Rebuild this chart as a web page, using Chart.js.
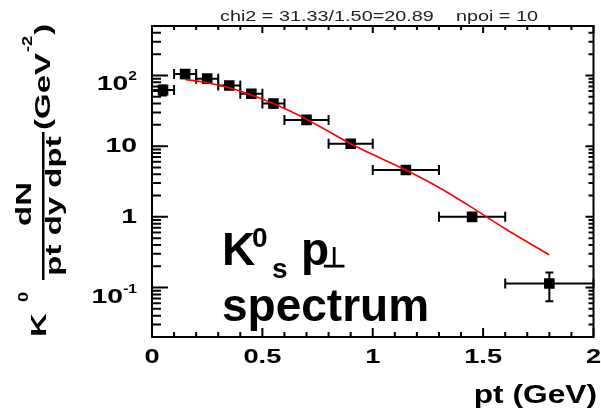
<!DOCTYPE html>
<html>
<head>
<meta charset="utf-8">
<script src="https://cdn.jsdelivr.net/npm/chart.js@4.4.1/dist/chart.umd.min.js"></script>
<style>
  html, body { margin: 0; padding: 0; background: #fff; }
  #wrap { width: 601px; height: 414px; }
</style>
</head>
<body>
<div id="wrap"><canvas id="c" width="601" height="414"></canvas></div>
<script>
// espectro K0s em pt
const ptBins = [0.05, 0.15, 0.25, 0.35, 0.45, 0.55, 0.7, 0.9, 1.15, 1.45, 1.8];
const ptHalfWidth = [0.05, 0.05, 0.05, 0.05, 0.05, 0.05, 0.1, 0.1, 0.15, 0.15, 0.2];
const yields = [62, 105, 90, 72, 55, 40, 23.5, 10.8, 4.6, 1.0, 0.114];
const yieldErr = [10, 14, 10, 8, 6, 5, 3, 1.2, 0.5, 0.1, 0.05];

// curva do ajuste (vermelha)
const fitPt = [0.15, 0.25, 0.35, 0.45, 0.55, 0.7, 0.9, 1.0, 1.15, 1.3, 1.45, 1.6, 1.8];
const fitVals = [88, 79, 67, 53, 40, 24, 10.8, 7.6, 4.6, 2.6, 1.35, 0.68, 0.29];

// eixos
const xTicks = [0, 0.5, 1, 1.5, 2];
const xTickLabels = ['0', '0.5', '1', '1.5', '2'];
const yTicks = [0.1, 1, 10, 100];
const yTickLabels = [['10', '-1'], ['1', ''], ['10', ''], ['10', '2']];
const fitTitle = 'chi2 = 31.33/1.50=20.89    npoi = 10';

const FONT = '"Liberation Sans", Arial, sans-serif';

// texto esticado (o original foi redimensionado)
function stretchText(ctx, text, x, y, font, sx, sy, align) {
  ctx.save();
  ctx.font = font;
  ctx.textAlign = align || 'left';
  ctx.textBaseline = 'alphabetic';
  ctx.translate(x, y);
  ctx.scale(sx, sy);
  ctx.fillText(text, 0, 0);
  ctx.restore();
}

// barras de erro
const errorBars = {
  id: 'errorBars',
  beforeDatasetsDraw(chart) {
    const { ctx, scales: { x, y } } = chart;
    ctx.save();
    ctx.strokeStyle = '#000';
    ctx.lineWidth = 2;
    ptBins.forEach((pt, i) => {
      const px = x.getPixelForValue(pt);
      const py = y.getPixelForValue(yields[i]);
      const x0 = x.getPixelForValue(pt - ptHalfWidth[i]);
      const x1 = x.getPixelForValue(pt + ptHalfWidth[i]);
      const y0 = y.getPixelForValue(yields[i] - yieldErr[i]);
      const y1 = y.getPixelForValue(yields[i] + yieldErr[i]);
      ctx.beginPath();
      ctx.moveTo(x0, py); ctx.lineTo(x1, py);
      ctx.moveTo(x0, py - 5); ctx.lineTo(x0, py + 5);
      ctx.moveTo(x1, py - 5); ctx.lineTo(x1, py + 5);
      ctx.moveTo(px, y0); ctx.lineTo(px, y1);
      ctx.moveTo(px - 4, y0); ctx.lineTo(px + 4, y0);
      ctx.moveTo(px - 4, y1); ctx.lineTo(px + 4, y1);
      ctx.stroke();
    });
    ctx.restore();
  }
};

// moldura estilo ROOT, ticks, rótulos e títulos
const rootFrame = {
  id: 'rootFrame',
  afterDraw(chart) {
    const { ctx, chartArea: a, scales: { x, y } } = chart;
    ctx.save();
    ctx.strokeStyle = '#000';
    ctx.fillStyle = '#000';
    ctx.lineWidth = 2;
    ctx.strokeRect(a.left, a.top, a.right - a.left, a.bottom - a.top);

    // ticks do eixo x
    ctx.beginPath();
    for (let k = 0; k <= 20; k++) {
      const v = k / 10;
      const px = x.getPixelForValue(v);
      const major = k % 5 === 0;
      ctx.moveTo(px, a.bottom); ctx.lineTo(px, a.bottom - (major ? 9 : 5));
      ctx.moveTo(px, a.top); ctx.lineTo(px, a.top + (major ? 7 : 4));
    }
    // ticks do eixo y (log)
    for (let e = -2; e <= 2; e++) {
      for (let m = 1; m <= 9; m++) {
        const v = m * Math.pow(10, e);
        if (v < y.min || v > y.max) continue;
        const py = y.getPixelForValue(v);
        const major = m === 1;
        ctx.moveTo(a.left, py); ctx.lineTo(a.left + (major ? 16 : 9), py);
        ctx.moveTo(a.right, py); ctx.lineTo(a.right - (major ? 8 : 5), py);
      }
    }
    ctx.stroke();

    // rótulos do eixo x
    xTicks.forEach((v, i) => {
      stretchText(ctx, xTickLabels[i], x.getPixelForValue(v), 363, 'bold 21px ' + FONT, 1.3, 1, 'center');
    });

    // rótulos do eixo y
    yTicks.forEach((v, i) => {
      const py = y.getPixelForValue(v);
      const [base, exp] = yTickLabels[i];
      ctx.font = 'bold 13px ' + FONT;
      const ew = exp ? ctx.measureText(exp).width * 1.2 : 0;
      const right = 137;
      const baseY = exp ? py + 15 : py + 6;
      stretchText(ctx, base, right - ew, baseY, 'bold 21px ' + FONT, 1.35, 1, 'right');
      if (exp) stretchText(ctx, exp, right - ew, baseY - 10, 'bold 13px ' + FONT, 1.2, 1, 'left');
    });

    // título do ajuste
    ctx.font = '14px ' + FONT;
    const tw = ctx.measureText(fitTitle).width;
    ctx.fillStyle = '#222';
    stretchText(ctx, fitTitle, 379, 21, '14px ' + FONT, 318 / tw, 1, 'center');
    ctx.fillStyle = '#000';

    // título do eixo x
    stretchText(ctx, 'pt (GeV)', 597, 403, 'bold 26px ' + FONT, 1.22, 1, 'right');

    // título do eixo y (rotacionado)
    ctx.save();
    ctx.translate(0, 414);
    ctx.rotate(-Math.PI / 2);
    const sL = 1.5;
    const big = 'bold 22px ' + FONT;
    const small = 'bold 14px ' + FONT;
    stretchText(ctx, 'K', 77, 46, big, sL, 1, 'left');
    stretchText(ctx, '0', 112, 28, small, 1.3, 1, 'left');
    stretchText(ctx, 'dN', 210, 31, big, sL, 1, 'center');
    ctx.fillRect(134, 42, 148, 2.5);
    stretchText(ctx, 'pt dy dpt', 208, 61, big, sL, 1, 'center');
    ctx.font = big;
    const w1 = ctx.measureText('(GeV').width * sL;
    stretchText(ctx, '(GeV', 284, 50, big, sL, 1, 'left');
    ctx.font = small;
    const w2 = ctx.measureText('-2').width * 1.3;
    stretchText(ctx, '-2', 284 + w1 + 1, 32, small, 1.3, 1, 'left');
    stretchText(ctx, ')', 284 + w1 + w2 + 2, 50, big, sL, 1, 'left');
    ctx.restore();

    // anotação
    const ann = 'bold 46px ' + FONT;
    const annS = 'bold 28px ' + FONT;
    stretchText(ctx, 'K', 222, 265, ann, 1, 1, 'left');
    stretchText(ctx, '0', 252, 247, annS, 1, 1, 'left');
    stretchText(ctx, 's', 272, 278, annS, 1, 1, 'left');
    stretchText(ctx, 'p', 301, 265, ann, 1, 1, 'left');
    stretchText(ctx, '\u22A5', 322, 267, annS, 1, 1, 'left');
    stretchText(ctx, 'spectrum', 222, 321, ann, 1, 1, 'left');

    ctx.restore();
  }
};

new Chart(document.getElementById('c'), {
  type: 'scatter',
  data: {
    datasets: [
      {
        label: 'fit',
        type: 'line',
        data: fitPt.map((v, i) => ({ x: v, y: fitVals[i] })),
        borderColor: '#ff0000',
        borderWidth: 1.6,
        pointRadius: 0,
        tension: 0.3,
        order: 0
      },
      {
        label: 'K0',
        data: ptBins.map((v, i) => ({ x: v, y: yields[i] })),
        pointStyle: 'rect',
        pointRadius: 7.5,
        backgroundColor: '#000',
        borderWidth: 0,
        order: 1
      }
    ]
  },
  options: {
    responsive: false,
    animation: false,
    devicePixelRatio: 1,
    layout: { padding: { left: 152, right: 2, top: 26, bottom: 77 } },
    plugins: { legend: { display: false }, tooltip: { enabled: false } },
    scales: {
      x: { type: 'linear', min: 0, max: 2, display: false },
      y: { type: 'logarithmic', min: 0.02, max: 500, display: false }
    }
  },
  plugins: [errorBars, rootFrame]
});
</script>
</body>
</html>
